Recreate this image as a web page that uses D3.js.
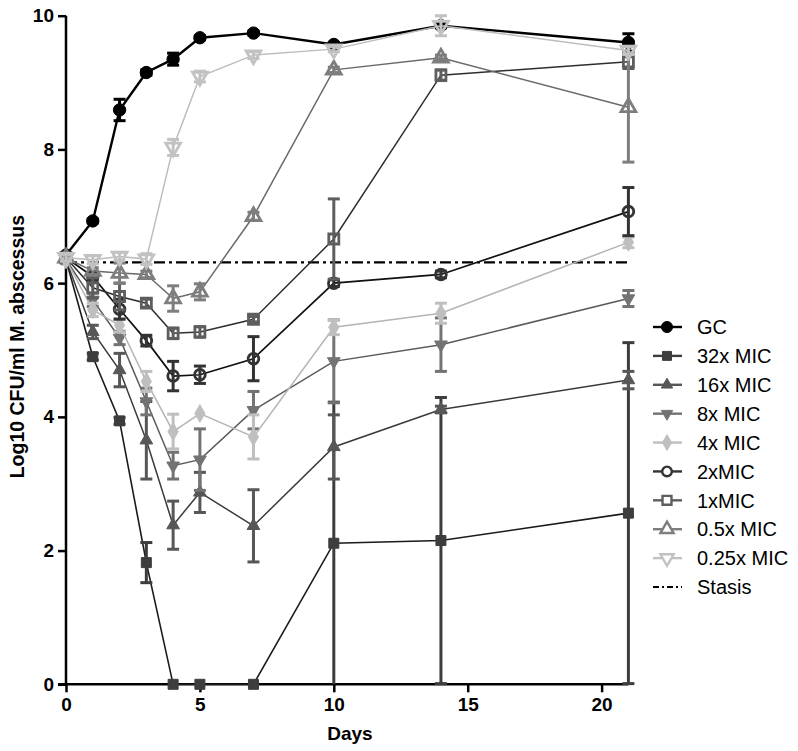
<!DOCTYPE html>
<html>
<head>
<meta charset="utf-8">
<script src="https://cdn.jsdelivr.net/npm/d3@7"></script>
<style>
  body { margin: 0; background: #fff; }
  svg { font-family: "Liberation Sans", Arial, sans-serif; }
</style>
</head>
<body>
<div id="chart"></div>
<script>
// sampling days
const days = [0, 1, 2, 3, 4, 5, 7, 10, 14, 21];

// series means (log10 CFU/ml) and error (+/-)
const gc = [6.42, 6.93, 8.59, 9.15, 9.35, 9.67, 9.74, 9.57, 9.85, 9.6];
const gcErr = [0.03, 0.03, 0.16, 0.04, 0.09, 0.03, 0.03, 0.03, 0.03, 0.13];
const mic32 = [6.35, 4.9, 3.94, 1.82, 0, 0, 0, 2.11, 2.15, 2.56];
const mic32Err = [0.05, 0.05, 0.05, 0.3, 0, 0, 0, 2.11, 2.14, 2.55];
const mic16 = [6.35, 5.27, 4.7, 3.65, 2.38, 2.87, 2.37, 3.55, 4.11, 4.55];
const mic16Err = [0.05, 0.1, 0.25, 0.58, 0.36, 0.3, 0.54, 0.48, 0.05, 0.13];
const mic8 = [6.35, 5.75, 5.18, 4.23, 3.27, 3.36, 4.1, 4.83, 5.08, 5.77];
const mic8Err = [0.05, 0.1, 0.1, 0.2, 0.2, 0.46, 0.28, 0.62, 0.4, 0.12];
const mic4 = [6.35, 5.6, 5.37, 4.53, 3.78, 4.05, 3.7, 5.34, 5.55, 6.61];
const mic4Err = [0.05, 0.1, 0.1, 0.15, 0.26, 0, 0.33, 0.11, 0.15, 0.08];
const mic2 = [6.38, 6.1, 5.61, 5.14, 4.61, 4.63, 4.87, 6.0, 6.13, 7.07];
const mic2Err = [0.05, 0.05, 0.15, 0.08, 0.22, 0.13, 0.33, 0.05, 0.05, 0.36];
const mic1 = [6.38, 5.93, 5.8, 5.7, 5.25, 5.27, 5.46, 6.66, 9.11, 9.31];
const mic1Err = [0.05, 0.15, 0.2, 0.06, 0.08, 0.08, 0.04, 0.6, 0.08, 0.1];
const mic05 = [6.38, 6.18, 6.15, 6.13, 5.77, 5.87, 7.0, 9.19, 9.37, 8.63];
const mic05Err = [0.05, 0.05, 0.15, 0.05, 0.19, 0.12, 0.06, 0.04, 0.04, 0.82];
const mic025 = [6.38, 6.35, 6.4, 6.36, 8.03, 9.09, 9.41, 9.5, 9.85, 9.48];
const mic025Err = [0.05, 0.06, 0.06, 0.08, 0.12, 0.08, 0.05, 0.04, 0.15, 0.06];
const stasis = 6.31;

const seriesNames = ['GC', '32x MIC', '16x MIC', '8x MIC', '4x MIC', '2xMIC', '1xMIC', '0.5x MIC', '0.25x MIC'];
const xTicks = [0, 5, 10, 15, 20];
const yTicks = [0, 2, 4, 6, 8, 10];

const series = [
  { name: seriesNames[0], values: gc, err: gcErr, sym: d3.symbolCircle, size: 120, fill: true, color: '#000', line: '#000', lw: 2.4, rot: 0 },
  { name: seriesNames[1], values: mic32, err: mic32Err, sym: d3.symbolSquare, size: 100, fill: true, color: '#3d3d3d', line: '#1a1a1a', lw: 1.6, rot: 0 },
  { name: seriesNames[2], values: mic16, err: mic16Err, sym: d3.symbolTriangle, size: 70, fill: true, color: '#575757', line: '#3a3a3a', lw: 1.5, rot: 0 },
  { name: seriesNames[3], values: mic8, err: mic8Err, sym: d3.symbolTriangle, size: 70, fill: true, color: '#737373', line: '#5a5a5a', lw: 1.5, rot: 180 },
  { name: seriesNames[4], values: mic4, err: mic4Err, sym: d3.symbolDiamond, size: 90, fill: true, color: '#bfbfbf', line: '#b5b5b5', lw: 1.5, rot: 0 },
  { name: seriesNames[5], values: mic2, err: mic2Err, sym: d3.symbolCircle, size: 90, fill: false, color: '#333', line: '#111', lw: 1.7, rot: 0 },
  { name: seriesNames[6], values: mic1, err: mic1Err, sym: d3.symbolSquare, size: 100, fill: false, color: '#5e5e5e', line: '#2e2e2e', lw: 1.5, rot: 0 },
  { name: seriesNames[7], values: mic05, err: mic05Err, sym: d3.symbolTriangle, size: 95, fill: false, color: '#7e7e7e', line: '#6a6a6a', lw: 1.5, rot: 0 },
  { name: seriesNames[8], values: mic025, err: mic025Err, sym: d3.symbolTriangle, size: 95, fill: false, color: '#c2c2c2', line: '#bdbdbd', lw: 1.5, rot: 180 }
];

const svg = d3.select('#chart').append('svg')
  .attr('width', 798)
  .attr('height', 751);

const x = d3.scaleLinear().domain([0, 21]).range([66, 628.4]);
const y = d3.scaleLinear().domain([0, 10]).range([684.3, 15.7]);

// axes
const xAxis = svg.append('g')
  .attr('transform', 'translate(0,' + y(0) + ')')
  .call(d3.axisBottom(x).tickValues(xTicks).tickSize(8).tickPadding(5));
const yAxis = svg.append('g')
  .attr('transform', 'translate(' + x(0) + ',0)')
  .call(d3.axisLeft(y).tickValues(yTicks).tickSize(8).tickPadding(4));

[xAxis, yAxis].forEach(a => {
  a.select('.domain').attr('stroke', '#000').attr('stroke-width', 2.5);
  a.selectAll('.tick line').attr('stroke', '#000').attr('stroke-width', 2.5);
  a.selectAll('.tick text').attr('fill', '#000').attr('font-size', 19).attr('font-weight', 'bold')
    .attr('font-family', '"Liberation Sans", Arial, sans-serif');
});
xAxis.select('.domain').attr('d', 'M' + (x(0) - 8) + ',0H' + x(21));
yAxis.select('.domain').attr('d', 'M0,' + y(0) + 'V' + y(10));

svg.append('text')
  .attr('x', x(10.6)).attr('y', 740)
  .attr('text-anchor', 'middle')
  .attr('font-size', 19).attr('font-weight', 'bold')
  .text('Days');

svg.append('text')
  .attr('transform', 'translate(24,' + y(5.05) + ') rotate(-90)')
  .attr('text-anchor', 'middle')
  .attr('font-size', 19.5).attr('font-weight', 'bold')
  .text('Log10 CFU/ml M. abscessus');

// stasis line
svg.append('line')
  .attr('x1', x(0)).attr('x2', x(21))
  .attr('y1', y(stasis)).attr('y2', y(stasis))
  .attr('stroke', '#000').attr('stroke-width', 2.3)
  .attr('stroke-dasharray', '11,4,3,4');

const line = d3.line().x((d, i) => x(days[i])).y(d => y(d));

series.forEach(s => {
  const g = svg.append('g');
  g.append('path')
    .attr('d', line(s.values))
    .attr('fill', 'none')
    .attr('stroke', s.line)
    .attr('stroke-width', s.lw);

  // error bars
  s.values.forEach((v, i) => {
    const e = s.err[i];
    if (!e) return;
    const lo = Math.max(0, v - e), hi = v + e;
    const cx = x(days[i]);
    g.append('line')
      .attr('x1', cx).attr('x2', cx)
      .attr('y1', y(lo)).attr('y2', y(hi))
      .attr('stroke', s.color).attr('stroke-width', 3);
    [hi, lo].forEach(t => {
      if (t === 0) return;
      g.append('line')
        .attr('x1', cx - 6).attr('x2', cx + 6)
        .attr('y1', y(t)).attr('y2', y(t))
        .attr('stroke', s.color).attr('stroke-width', 3);
    });
  });

  g.selectAll('path.pt')
    .data(s.values)
    .enter().append('path')
    .attr('class', 'pt')
    .attr('d', d3.symbol().type(s.sym).size(s.size))
    .attr('transform', (d, i) => 'translate(' + x(days[i]) + ',' + y(d) + ') rotate(' + s.rot + ')')
    .attr('fill', s.fill ? s.color : 'none')
    .attr('stroke', s.color)
    .attr('stroke-width', s.fill ? 1 : 2.8);
});

// legend
const legend = svg.append('g');
const rowY = d3.scaleLinear().domain([0, 9]).range([327, 587]);
series.forEach((s, i) => {
  const ly = rowY(i);
  legend.append('line')
    .attr('x1', 653).attr('x2', 682)
    .attr('y1', ly).attr('y2', ly)
    .attr('stroke', s.color).attr('stroke-width', 2.4);
  legend.append('path')
    .attr('d', d3.symbol().type(s.sym).size(s.size * 0.8))
    .attr('transform', 'translate(667,' + ly + ') rotate(' + s.rot + ')')
    .attr('fill', s.fill ? s.color : '#fff')
    .attr('stroke', s.color)
    .attr('stroke-width', s.fill ? 1 : 2.4);
  legend.append('text')
    .attr('x', 697).attr('y', ly).attr('dy', '0.36em')
    .attr('font-size', 20)
    .text(s.name);
});
legend.append('line')
  .attr('x1', 653).attr('x2', 682)
  .attr('y1', rowY(9)).attr('y2', rowY(9))
  .attr('stroke', '#000').attr('stroke-width', 2.2)
  .attr('stroke-dasharray', '6,3,2,3');
legend.append('text')
  .attr('x', 697).attr('y', rowY(9)).attr('dy', '0.36em')
  .attr('font-size', 20)
  .text('Stasis');
</script>
</body>
</html>
